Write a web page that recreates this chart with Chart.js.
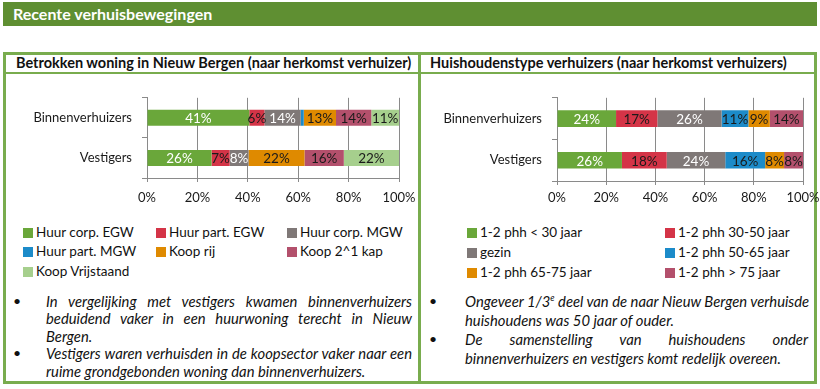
<!DOCTYPE html>
<html>
<head>
<meta charset="utf-8">
<script src="https://cdn.jsdelivr.net/npm/chart.js@4/dist/chart.umd.min.js"></script>
<style>
  html, body { margin: 0; padding: 0; background: #fff; }
  body { width: 820px; height: 389px; position: relative; overflow: hidden; font-family: Lato, "Open Sans", sans-serif; color: #111; }
  .abs { position: absolute; }
  #header { left: 3px; top: 2px; width: 814px; height: 24px; background: #5f8f32; color: #fff; font-weight: bold; font-size: 16px; line-height: 24px; padding-left: 10px; box-sizing: border-box; }
  #box { left: 3px; top: 52px; width: 814px; height: 332px; border: 3px solid #79ac4e; box-sizing: border-box; }
  #hline { left: 3px; top: 72px; width: 814px; height: 2px; background: #79ac4e; }
  #vline { left: 418px; top: 52px; width: 3px; height: 332px; background: #79ac4e; }
  .title { top: 54px; font-weight: bold; font-size: 14.5px; line-height: 18px; white-space: nowrap; }
  canvas { position: absolute; }
  .legend { position: absolute; font-size: 13.5px; }
  .legend .item { position: absolute; white-space: nowrap; line-height: 16px; }
  .legend .sw { display: inline-block; width: 10px; height: 10px; margin-right: 3px; vertical-align: -1px; }
  .bullets { position: absolute; font-style: italic; font-size: 14.8px; }
  .bullets .ln { position: absolute; white-space: nowrap; }
  .bullets .j { text-align: justify; text-align-last: justify; white-space: normal; }
  .dot { position: absolute; font-style: normal; font-size: 14px; }
</style>
</head>
<body>
<div id="header" class="abs">Recente verhuisbewegingen</div>
<div id="box" class="abs"></div>
<div id="hline" class="abs"></div>
<div id="vline" class="abs"></div>
<div class="abs title" style="left:16px;">Betrokken woning in Nieuw Bergen (naar herkomst verhuizer)</div>
<div class="abs title" style="left:430px;">Huishoudenstype verhuizers (naar herkomst verhuizers)</div>

<canvas id="c1" width="416" height="128" style="left:0px; top:80px;"></canvas>
<canvas id="c2" width="400" height="131" style="left:420px; top:80px;"></canvas>

<div id="leg1" class="legend"></div>
<div id="leg2" class="legend"></div>

<div class="bullets">
  <div class="dot" style="left:13px; top:292px;">•</div>
  <div class="ln j" style="left:46px; top:292px; width:366px;">In vergelijking met vestigers kwamen binnenverhuizers</div>
  <div class="ln j" style="left:46px; top:309px; width:366px;">beduidend vaker in een huurwoning terecht in Nieuw</div>
  <div class="ln" style="left:46px; top:327px;">Bergen.</div>
  <div class="dot" style="left:13px; top:344px;">•</div>
  <div class="ln j" style="left:46px; top:344px; width:366px;">Vestigers waren verhuisden in de koopsector vaker naar een</div>
  <div class="ln" style="left:46px; top:362px;">ruime grondgebonden woning dan binnenverhuizers.</div>

  <div class="dot" style="left:429px; top:292px;">•</div>
  <div class="ln" style="left:465px; top:292px;">Ongeveer 1/3<sup style="font-size:9px;">e</sup> deel van de naar Nieuw Bergen verhuisde</div>
  <div class="ln" style="left:465px; top:311px;">huishoudens was 50 jaar of ouder.</div>
  <div class="dot" style="left:429px; top:330px;">•</div>
  <div class="ln j" style="left:465px; top:330px; width:343px;">De samenstelling van huishoudens onder</div>
  <div class="ln" style="left:465px; top:349px;">binnenverhuizers en vestigers komt redelijk overeen.</div>
</div>

<script>
// ---------- DATA ----------
const categories = ['Binnenverhuizers', 'Vestigers'];
const xTickValues = [0, 20, 40, 60, 80, 100];

// Left chart: Betrokken woning (percent of movers)
const leftSeriesNames = ['Huur corp. EGW', 'Huur part. EGW', 'Huur corp. MGW', 'Huur part. MGW', 'Koop rij', 'Koop 2^1 kap', 'Koop Vrijstaand'];
const huurCorpEGW   = [40.6, 25.6];
const huurPartEGW   = [6.0, 7.2];
const huurCorpMGW   = [14.4, 7.5];
const huurPartMGW   = [1.2, 0];
const koopRij       = [12.8, 22.2];
const koop21Kap     = [14.0, 15.6];
const koopVrijstaand = [11.0, 21.9];

// Right chart: Huishoudenstype
const rightSeriesNames = ['1-2 phh < 30 jaar', '1-2 phh 30-50 jaar', 'gezin', '1-2 phh 50-65 jaar', '1-2 phh 65-75 jaar', '1-2 phh > 75 jaar'];
const phhTot30   = [24.0, 26.4];
const phh30tot50 = [16.8, 18.2];
const gezin      = [26.1, 23.8];
const phh50tot65 = [10.9, 16.2];
const phh65tot75 = [8.7, 7.7];
const phhBoven75 = [13.5, 7.7];

// ---------- STYLES ----------
const C_GREEN = '#6aa73a', C_RED = '#d43447', C_GRAY = '#7f7877', C_BLUE = '#1c8bc9',
      C_ORANGE = '#df8a00', C_MAUVE = '#b3506c', C_LGREEN = '#a6cf8d';
const DARK = '#1a1a1a', WHITE = '#ffffff';

const leftData = [huurCorpEGW, huurPartEGW, huurCorpMGW, huurPartMGW, koopRij, koop21Kap, koopVrijstaand];
const leftColors = [C_GREEN, C_RED, C_GRAY, C_BLUE, C_ORANGE, C_MAUVE, C_LGREEN];
const leftLabelColors = [WHITE, DARK, WHITE, DARK, DARK, DARK, DARK];

const rightData = [phhTot30, phh30tot50, gezin, phh50tot65, phh65tot75, phhBoven75];
const rightColors = [C_GREEN, C_RED, C_GRAY, C_BLUE, C_ORANGE, C_MAUVE];
const rightLabelColors = [WHITE, DARK, WHITE, DARK, DARK, DARK];

const valueLabels = {
  id: 'valueLabels',
  afterDatasetsDraw(chart) {
    const ctx = chart.ctx;
    ctx.save();
    ctx.font = '13.5px Lato';
    ctx.textAlign = 'center';
    ctx.textBaseline = 'middle';
    chart.data.datasets.forEach((ds, i) => {
      const meta = chart.getDatasetMeta(i);
      meta.data.forEach((bar, j) => {
        const v = ds.data[j];
        if (!v) return;
        const w = Math.abs(bar.x - bar.base);
        if (w < 8) return;
        ctx.fillStyle = ds.labelColor;
        ctx.fillText(Math.round(v) + '%', (bar.x + bar.base) / 2, bar.y + 1);
      });
    });
    ctx.restore();
  }
};

function makeChart(id, names, data, colors, labelColors, opts) {
  const datasets = names.map((n, i) => ({
    label: n,
    data: data[i],
    backgroundColor: colors[i],
    borderWidth: 0,
    labelColor: labelColors[i],
    categoryPercentage: 1,
    barPercentage: opts.barPct
  }));
  return new Chart(document.getElementById(id), {
    type: 'bar',
    data: { labels: categories, datasets },
    plugins: [valueLabels],
    options: {
      indexAxis: 'y',
      responsive: false,
      animation: false,
      layout: { padding: { top: opts.padTop, right: opts.padRight, left: 0, bottom: 0 } },
      plugins: { legend: { display: false }, tooltip: { enabled: false } },
      scales: {
        x: {
          stacked: true,
          min: 0, max: 100,
          afterBuildTicks(scale) { scale.ticks = xTickValues.map(v => ({ value: v })); },
          afterFit(scale) { scale.height = 30; scale.paddingLeft = 0; scale.paddingRight = 0; },
          ticks: { color: DARK, font: { family: 'Lato', size: 13 }, padding: opts.xPad, callback: v => v + '%' },
          grid: { color: '#8a8a8a', lineWidth: 1, tickLength: 4, drawTicks: true },
          border: { color: '#8a8a8a' }
        },
        y: {
          stacked: true,
          afterFit(scale) { scale.width = opts.yWidth; },
          ticks: { color: DARK, font: { family: 'Lato', size: 13 }, padding: 10 },
          grid: { drawOnChartArea: false, color: '#8a8a8a', tickLength: 5, offset: true },
          border: { color: '#8a8a8a' }
        }
      }
    }
  });
}

function buildLegend(elId, chart, positions) {
  const el = document.getElementById(elId);
  chart.data.datasets.forEach((ds, i) => {
    const d = document.createElement('div');
    d.className = 'item';
    d.style.left = positions[i][0] + 'px';
    d.style.top = positions[i][1] + 'px';
    const sw = document.createElement('span');
    sw.className = 'sw';
    sw.style.background = ds.backgroundColor;
    d.appendChild(sw);
    d.appendChild(document.createTextNode(ds.label));
    el.appendChild(d);
  });
}

function init() {
  const ch1 = makeChart('c1', leftSeriesNames, leftData, leftColors, leftLabelColors,
    { barPct: 0.40, padTop: 9, padRight: 17, yWidth: 147, xPad: 8 });
  const ch2 = makeChart('c2', rightSeriesNames, rightData, rightColors, rightLabelColors,
    { barPct: 0.40, padTop: 10, padRight: 17, yWidth: 137, xPad: 5 });
  buildLegend('leg1', ch1, [[23, 224], [156, 224], [287, 224], [23, 243], [156, 243], [287, 243], [23, 263]]);
  buildLegend('leg2', ch2, [[467, 224], [665, 224], [467, 244], [665, 244], [467, 264], [665, 264]]);
}

if (document.fonts && document.fonts.load) {
  Promise.all([document.fonts.load('13px Lato'), document.fonts.load('bold 14px Lato'), document.fonts.load('italic 14px Lato')])
    .then(init, init);
} else { init(); }
</script>
</body>
</html>
